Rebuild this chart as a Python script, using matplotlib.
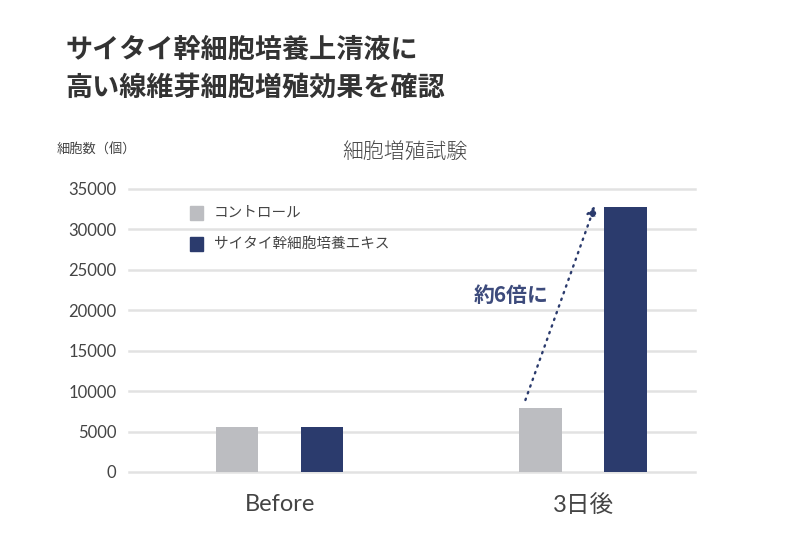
import matplotlib
matplotlib.use("Agg")
import matplotlib.pyplot as plt
import numpy as np

plt.rcParams['font.family'] = ['Noto Sans CJK JP', 'DejaVu Sans']

# data
groups = ['Before', '3日後']
series = ['コントロール', 'サイタイ幹細胞培養エキス']
control = [5550, 7900]
extract = [5550, 32800]
yticks = [0, 5000, 10000, 15000, 20000, 25000, 30000, 35000]

c_ctrl = '#bcbdc1'
c_ext = '#2b3b6d'

fig = plt.figure(figsize=(8, 5.51), dpi=100)
ax = fig.add_axes([0.161, 0.1434, 0.708, 0.5137])

x = np.arange(len(groups))
w = 0.139
off = 0.140
ax.bar(x - off, control, w, color=c_ctrl, zorder=3)
ax.bar(x + off, extract, w, color=c_ext, zorder=3)

ax.set_xlim(-0.498, 1.37)
ax.set_ylim(0, 35000)
ax.set_yticks(yticks)
ax.set_yticklabels([str(v) for v in yticks], family=['Lato', 'DejaVu Sans'],
                   fontsize=12, color='#444444')
for v in yticks:
    ax.axhline(v, color='#e2e2e2', lw=1.8, zorder=1, clip_on=False)
ax.tick_params(axis='y', length=0, pad=9)
ax.tick_params(axis='x', length=0, pad=16)
ax.set_xticks(x)
ax.set_xticklabels(groups, fontsize=17, color='#444444',
                   family=['Lato', 'Noto Sans CJK JP'])
for s in ax.spines.values():
    s.set_visible(False)

# legend drawn by hand
for i, (lab, col) in enumerate(zip(series, [c_ctrl, c_ext])):
    yy = 213 + i * 31
    fig.patches.append(plt.Rectangle((190 / 800, 1 - (yy + 7) / 551), 13 / 800, 14 / 551,
                                     transform=fig.transFigure, color=col))
    fig.text(214 / 800, 1 - yy / 551, lab, fontsize=10.5, color='#444444', va='center')

# arrow + label
ax.annotate('', xy=(1.04, 33000), xytext=(0.81, 8900),
            arrowprops=dict(arrowstyle='-|>', color=c_ext, lw=1.7, ls=(0, (0.6, 2.4)),
                            mutation_scale=15, shrinkA=0, shrinkB=0,
                            capstyle='round'))
ax.text(0.762, 21800, '約6倍に', ha='center', va='center', fontsize=15,
        fontweight='bold', color='#3d4b7c')

# titles
fig.text(65 / 800, 1 - 50 / 551, 'サイタイ幹細胞培養上清液に', fontsize=19.5,
         fontweight='bold', color='#333333', va='center')
fig.text(65 / 800, 1 - 88 / 551, '高い線維芽細胞増殖効果を確認', fontsize=19.5,
         fontweight='bold', color='#333333', va='center')
fig.text(405 / 800, 1 - 152 / 551, '細胞増殖試験', fontsize=15, color='#444444',
         ha='center', va='center', fontweight='light')
fig.text(57 / 800, 1 - 150 / 551, '細胞数（個）', fontsize=9.5, color='#444444', va='center')

fig.savefig('out.png', dpi=100, facecolor='white')
